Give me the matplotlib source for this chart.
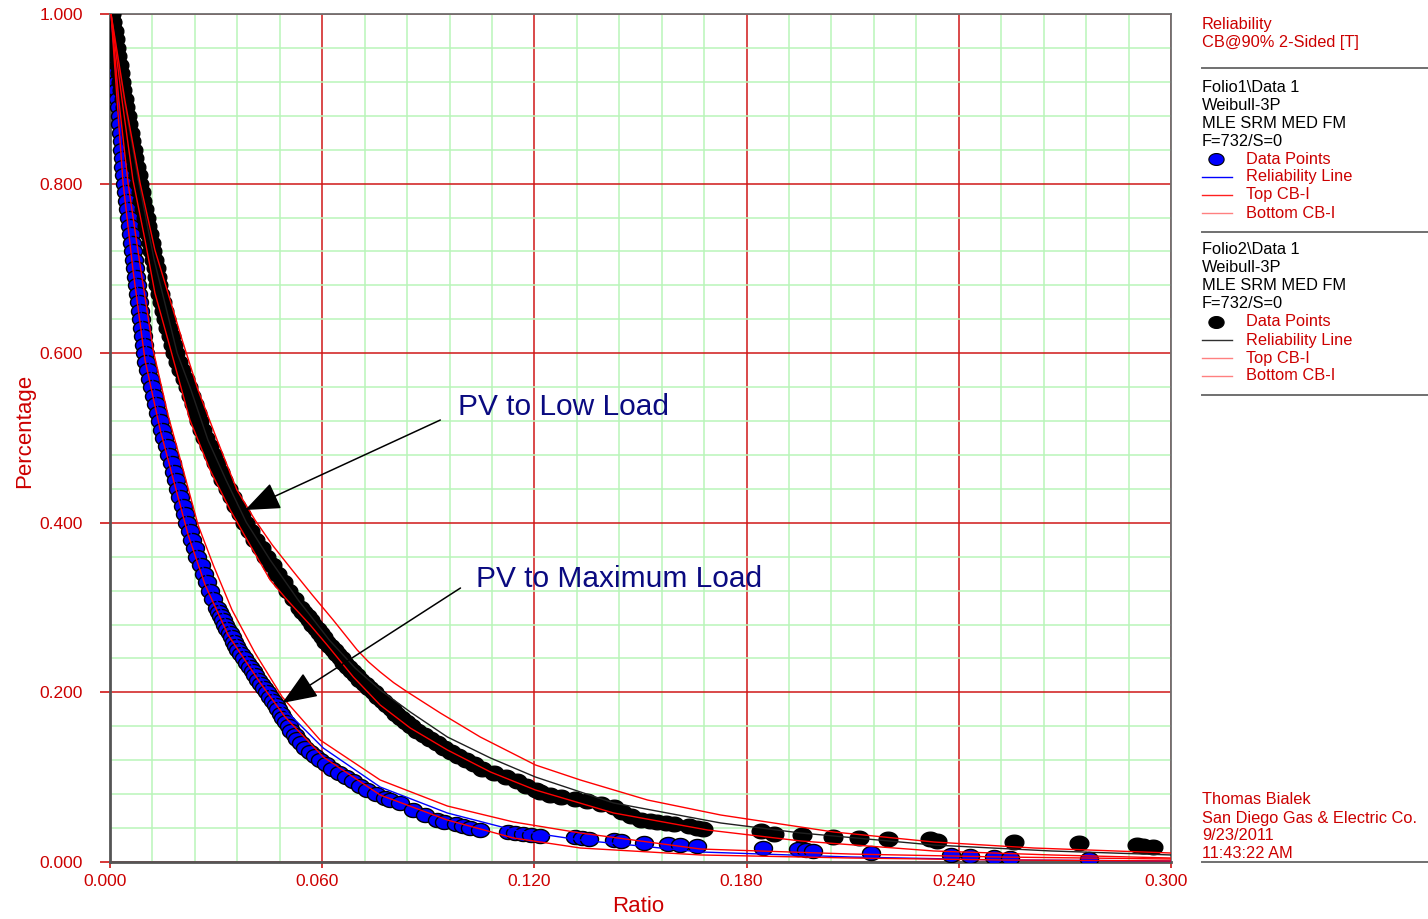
import numpy as np
import matplotlib
matplotlib.use("Agg")
import matplotlib.pyplot as plt
import matplotlib.font_manager as fm
from matplotlib.lines import Line2D
from matplotlib.ticker import MultipleLocator, FormatStrFormatter
import matplotlib.transforms as mtransforms


def has_font(name):
    try:
        fm.findfont(fm.FontProperties(family=name), fallback_to_default=False)
        return True
    except Exception:
        return False

MAIN = "Liberation Sans" if has_font("Liberation Sans") else "DejaVu Sans"
NARROW = "Liberation Sans Narrow" if has_font("Liberation Sans Narrow") else MAIN
plt.rcParams["font.family"] = [MAIN, "DejaVu Sans"]

# ---------------- data ----------------
# Folio1 (blue) data points
blue_y = [1.00, 0.99, 0.98, 0.97, 0.96, 0.95, 0.94, 0.93, 0.92, 0.91, 0.90, 0.89, 0.88, 0.87,
          0.86, 0.85, 0.84, 0.83, 0.82, 0.81, 0.80, 0.79, 0.78, 0.77, 0.76, 0.75, 0.74, 0.73,
          0.72, 0.71, 0.70, 0.69, 0.68, 0.67, 0.66, 0.65, 0.64, 0.63, 0.62, 0.61, 0.60, 0.59,
          0.58, 0.57, 0.56, 0.55, 0.54, 0.53, 0.52, 0.51, 0.50, 0.49, 0.48, 0.47, 0.46, 0.45,
          0.44, 0.43, 0.42, 0.41, 0.40, 0.39, 0.38, 0.37, 0.36, 0.35, 0.34, 0.33, 0.32, 0.31,
          0.30, 0.295, 0.290, 0.285, 0.280, 0.275, 0.270, 0.265, 0.260, 0.255, 0.250, 0.245,
          0.240, 0.235, 0.230, 0.225, 0.220, 0.215, 0.210, 0.205, 0.200, 0.195, 0.190, 0.185,
          0.180, 0.175, 0.170, 0.165, 0.160, 0.155, 0.150, 0.145, 0.140, 0.135, 0.130, 0.125,
          0.120, 0.115, 0.110, 0.105, 0.100, 0.095, 0.090, 0.085, 0.080, 0.075,
          0.073, 0.070, 0.061, 0.055, 0.050, 0.047, 0.045, 0.042, 0.040, 0.038, 0.035, 0.034,
          0.033, 0.032, 0.031, 0.029, 0.028, 0.027, 0.026, 0.025, 0.022, 0.021, 0.020, 0.019,
          0.017, 0.015, 0.014, 0.013, 0.011, 0.008, 0.007, 0.006, 0.005, 0.004]
blue_x = [0.0003, 0.0005, 0.0007, 0.0009, 0.0011, 0.0013, 0.0015, 0.0017, 0.0019, 0.0021, 0.0023,
          0.0025, 0.0027, 0.0029, 0.0031, 0.0033, 0.0035, 0.0037, 0.0038, 0.0040, 0.0043, 0.0046,
          0.0048, 0.0051, 0.0054, 0.0057, 0.0060, 0.0063, 0.0066, 0.0068, 0.0071, 0.0074, 0.0077,
          0.0080, 0.0083, 0.0086, 0.0089, 0.0091, 0.0094, 0.0097, 0.0100, 0.0103, 0.0108, 0.0114,
          0.0119, 0.0125, 0.0130, 0.0136, 0.0142, 0.0148, 0.0154, 0.0161, 0.0167, 0.0174, 0.0181,
          0.0187, 0.0193, 0.0199, 0.0205, 0.0211, 0.0217, 0.0225, 0.0232, 0.0239, 0.0247, 0.0256,
          0.0265, 0.0273, 0.0282, 0.0291, 0.0302, 0.0308, 0.0314, 0.0320, 0.0326, 0.0332, 0.0338,
          0.0344, 0.0350, 0.0356, 0.0362, 0.0370, 0.0379, 0.0387, 0.0395, 0.0403, 0.0411, 0.0419,
          0.0428, 0.0436, 0.0444, 0.0452, 0.0460, 0.0468, 0.0475, 0.0483, 0.0490, 0.0498, 0.0506,
          0.0513, 0.0522, 0.0530, 0.0539, 0.0552, 0.0566, 0.0580, 0.0594, 0.0610, 0.0629, 0.0648,
          0.0667, 0.0686, 0.0706, 0.0727, 0.0753, 0.0778,
          0.0793, 0.0821, 0.0858, 0.0892, 0.0926, 0.0943, 0.0977, 0.0999, 0.1019, 0.1047, 0.1124,
          0.1146, 0.1169, 0.1189, 0.1217, 0.1316, 0.1336, 0.1353, 0.1424, 0.1444, 0.1509, 0.1579,
          0.1613, 0.1661, 0.1845, 0.1945, 0.1967, 0.1987, 0.2151, 0.2378, 0.2431, 0.2499, 0.2545,
          0.2768]

# Folio2 (black) data points
black_y = [1.00, 0.99, 0.98, 0.97, 0.96, 0.95, 0.94, 0.93, 0.92, 0.91, 0.90, 0.89, 0.88, 0.87,
           0.86, 0.85, 0.84, 0.83, 0.82, 0.81, 0.80, 0.79, 0.78, 0.77, 0.76, 0.75, 0.74, 0.73,
           0.72, 0.71, 0.70, 0.69, 0.68, 0.67, 0.66, 0.65, 0.64, 0.63, 0.62, 0.61, 0.60, 0.59,
           0.58, 0.57, 0.56, 0.55, 0.54, 0.53, 0.52, 0.51, 0.50, 0.49, 0.48, 0.47, 0.46, 0.45,
           0.44, 0.43, 0.42, 0.41, 0.40, 0.39, 0.38, 0.37, 0.36, 0.35, 0.34, 0.33, 0.32, 0.31,
           0.30, 0.295, 0.290, 0.285, 0.280, 0.275, 0.270, 0.265, 0.260, 0.255, 0.250, 0.245,
           0.240, 0.235, 0.230, 0.225, 0.220, 0.215, 0.210, 0.205, 0.200, 0.195, 0.190, 0.185,
           0.180, 0.175, 0.170, 0.165, 0.160, 0.155, 0.150, 0.145, 0.140, 0.135, 0.130, 0.125,
           0.120, 0.115, 0.110, 0.105, 0.100, 0.095, 0.090, 0.085, 0.0825,
           0.079, 0.077, 0.074, 0.072, 0.068, 0.065, 0.059, 0.054, 0.050, 0.048, 0.047, 0.046,
           0.045, 0.042, 0.040, 0.039, 0.037, 0.033, 0.032, 0.029, 0.028, 0.027, 0.027, 0.025,
           0.024, 0.022, 0.020, 0.019, 0.018]
black_x = [0.0003, 0.0007, 0.0010, 0.0014, 0.0017, 0.0021, 0.0025, 0.0028, 0.0032, 0.0035, 0.0039,
           0.0043, 0.0048, 0.0052, 0.0056, 0.0060, 0.0065, 0.0069, 0.0073, 0.0078, 0.0082, 0.0087,
           0.0091, 0.0096, 0.0101, 0.0105, 0.0110, 0.0115, 0.0120, 0.0125, 0.0129, 0.0133, 0.0137,
           0.0141, 0.0146, 0.0153, 0.0159, 0.0165, 0.0172, 0.0178, 0.0184, 0.0193, 0.0202, 0.0211,
           0.0221, 0.0229, 0.0237, 0.0245, 0.0253, 0.0261, 0.0270, 0.0280, 0.0290, 0.0300, 0.0310,
           0.0320, 0.0333, 0.0344, 0.0357, 0.0369, 0.0381, 0.0396, 0.0411, 0.0426, 0.0441, 0.0457,
           0.0472, 0.0488, 0.0504, 0.0519, 0.0537, 0.0547, 0.0556, 0.0565, 0.0575, 0.0584, 0.0593,
           0.0603, 0.0612, 0.0622, 0.0632, 0.0642, 0.0652, 0.0662, 0.0672, 0.0683, 0.0695, 0.0708,
           0.0721, 0.0733, 0.0746, 0.0758, 0.0771, 0.0783, 0.0796, 0.0810, 0.0824, 0.0838, 0.0852,
           0.0869, 0.0887, 0.0906, 0.0924, 0.0943, 0.0963, 0.0985, 0.1007, 0.1029, 0.1053, 0.1086,
           0.1119, 0.1150, 0.1177, 0.1204, 0.1217,
           0.1245, 0.1274, 0.1316, 0.1350, 0.1387, 0.1424, 0.1449, 0.1472, 0.1500, 0.1528, 0.1548,
           0.1571, 0.1594, 0.1636, 0.1661, 0.1678, 0.1840, 0.1877, 0.1956, 0.2044, 0.2117, 0.2199,
           0.2318, 0.2338, 0.2556, 0.2740, 0.2904, 0.2921, 0.2949]

# Fitted lines
blue_rel_x = [0.0003, 0.0023, 0.0042, 0.0068, 0.0102, 0.0142, 0.0187, 0.0226, 0.0275, 0.0334, 0.0410,
              0.0481, 0.0603, 0.0764, 0.0954, 0.1141, 0.1330, 0.1670, 0.2095, 0.2519, 0.300]
blue_rel_y = [1.000, 0.8986, 0.8007, 0.7040, 0.6097, 0.5212, 0.4505, 0.3915, 0.3325, 0.2795, 0.2264,
              0.1851, 0.1344, 0.0884, 0.0578, 0.0377, 0.0259, 0.0118, 0.0059, 0.0024, 0.0012]
blue_top_x = [0.0003, 0.0025, 0.0051, 0.0085, 0.0122, 0.0164, 0.0207, 0.0249, 0.0292, 0.0345, 0.0410,
              0.0487, 0.0594, 0.0764, 0.0954, 0.1141, 0.1330, 0.1670, 0.2095, 0.2519, 0.300]
blue_top_y = [1.000, 0.8986, 0.8007, 0.7040, 0.6038, 0.5271, 0.4623, 0.3974, 0.3502, 0.2972, 0.2465,
              0.1946, 0.1439, 0.0967, 0.0660, 0.0472, 0.0342, 0.0153, 0.0094, 0.0059, 0.0035]
blue_bot_x = [0.0003, 0.0020, 0.0037, 0.0065, 0.0099, 0.0142, 0.0187, 0.0221, 0.0269, 0.0334, 0.0425,
              0.0495, 0.0603, 0.0764, 0.0954, 0.1141, 0.1330, 0.1670, 0.2095, 0.2519, 0.300]
blue_bot_y = [1.000, 0.8986, 0.8007, 0.6981, 0.5920, 0.5094, 0.4387, 0.3856, 0.3267, 0.2677, 0.2111,
              0.1710, 0.1238, 0.0790, 0.0495, 0.0283, 0.0165, 0.0083, 0.0047, 0.0024, 0.0012]

black_rel_x = [0.0003, 0.0040, 0.0082, 0.0125, 0.0153, 0.0190, 0.0229, 0.0277, 0.0328, 0.0385, 0.0453,
               0.0532, 0.0620, 0.0693, 0.0764, 0.0849, 0.0954, 0.1076, 0.1203, 0.1424, 0.1727, 0.1953,
               0.2329, 0.2661, 0.300]
black_rel_y = [1.000, 0.8986, 0.8007, 0.7099, 0.6627, 0.6002, 0.5566, 0.4976, 0.4505, 0.4009, 0.3561,
               0.3090, 0.2618, 0.2288, 0.2028, 0.1769, 0.1474, 0.1226, 0.1002, 0.0696, 0.0460, 0.0342,
               0.0200, 0.0130, 0.0083]
black_top_x = [0.0003, 0.0042, 0.0085, 0.0127, 0.0164, 0.0204, 0.0249, 0.0303, 0.0359, 0.0410, 0.0459,
               0.0515, 0.0572, 0.0631, 0.0699, 0.0731, 0.0764, 0.0802, 0.0841, 0.0934, 0.1047, 0.1203,
               0.1330, 0.1520, 0.1727, 0.2046, 0.2329, 0.2612, 0.300]
black_top_y = [1.000, 0.8986, 0.8007, 0.7217, 0.6710, 0.6156, 0.5566, 0.4976, 0.4387, 0.4033, 0.3738,
               0.3443, 0.3149, 0.2854, 0.2500, 0.2360, 0.2241, 0.2115, 0.2005, 0.1757, 0.1474, 0.1144,
               0.0967, 0.0731, 0.0554, 0.0354, 0.0236, 0.0165, 0.0106]
black_bot_x = [0.0003, 0.0034, 0.0065, 0.0099, 0.0127, 0.0164, 0.0226, 0.0283, 0.0340, 0.0388, 0.0453,
               0.0501, 0.0566, 0.0614, 0.0688, 0.0764, 0.0849, 0.0954, 0.1076, 0.1203, 0.1424, 0.1690,
               0.1953, 0.2329, 0.2661, 0.300]
black_bot_y = [1.000, 0.8986, 0.8042, 0.7335, 0.6710, 0.6156, 0.5212, 0.4623, 0.4151, 0.3797, 0.3325,
               0.3090, 0.2795, 0.2559, 0.2182, 0.1851, 0.1580, 0.1321, 0.1061, 0.0849, 0.0578, 0.0377,
               0.0248, 0.0130, 0.0083, 0.0047]

x_ticks = [0.000, 0.060, 0.120, 0.180, 0.240, 0.300]
y_ticks = [0.000, 0.200, 0.400, 0.600, 0.800, 1.000]

legend_head = ["Reliability", "CB@90% 2-Sided [T]"]
folio1_info = ["Folio1\\Data 1", "Weibull-3P", "MLE SRM MED FM", "F=732/S=0"]
folio2_info = ["Folio2\\Data 1", "Weibull-3P", "MLE SRM MED FM", "F=732/S=0"]
legend_items = ["Data Points", "Reliability Line", "Top CB-I", "Bottom CB-I"]
footer = ["Thomas Bialek", "San Diego Gas & Electric Co.", "9/23/2011", "11:43:22 AM"]

# ---------------- figure ----------------
W, H = 1428, 919
fig = plt.figure(figsize=(W / 100, H / 100), dpi=100)
fig.patch.set_facecolor("white")
L, R, T, B = 110, 1171, 14, 862
ax = fig.add_axes([L / W, 1 - B / H, (R - L) / W, (B - T) / H])
ax.set_xlim(0, 0.3)
ax.set_ylim(0, 1.0)

RED = "#CC0000"
ax.xaxis.set_major_locator(MultipleLocator(0.06))
ax.xaxis.set_minor_locator(MultipleLocator(0.012))
ax.yaxis.set_major_locator(MultipleLocator(0.2))
ax.yaxis.set_minor_locator(MultipleLocator(0.04))
ax.set_xticks(x_ticks)
ax.set_yticks(y_ticks)
ax.xaxis.set_major_formatter(FormatStrFormatter("%.3f"))
ax.yaxis.set_major_formatter(FormatStrFormatter("%.3f"))
ax.set_axisbelow(True)
ax.grid(which="minor", color="#B9F5B9", lw=1.1)
ax.grid(which="major", color="#D01818", lw=1.1)
ax.tick_params(which="major", direction="out", length=6, width=1.1, color=RED,
               labelcolor=RED, labelsize=12.5)
ax.tick_params(axis="y", which="major", length=7, pad=12.5)
ax.tick_params(axis="x", which="major", length=4, pad=5)
ax.tick_params(which="minor", length=0)
for lab in ax.get_xticklabels():
    lab.set_transform(lab.get_transform() +
                      mtransforms.ScaledTranslation(-5 / 100, 0, fig.dpi_scale_trans))

for s in ["left", "bottom"]:
    ax.spines[s].set_color("#555555")
    ax.spines[s].set_linewidth(2.0)
for s in ["top", "right"]:
    ax.spines[s].set_color("#707070")
    ax.spines[s].set_linewidth(1.3)

ax.set_xlabel("Ratio", color=RED, fontsize=16, family=[NARROW, "DejaVu Sans"])
ax.set_ylabel("Percentage", color=RED, fontsize=16, family=[NARROW, "DejaVu Sans"])
ax.xaxis.label.set_va("center")
ax.yaxis.label.set_va("center")
ax.xaxis.set_label_coords((638 - L) / (R - L), (B - 906) / (B - T))
ax.yaxis.set_label_coords((25 - L) / (R - L), (B - 431) / (B - T))

# elliptical marker
t = np.linspace(0, 2 * np.pi, 41)
ell = list(zip(np.cos(t), 0.78 * np.sin(t)))

ax.plot(blue_x, blue_y, ls="none", marker=ell, ms=13, mfc="#0000FF", mec="#000000", mew=1.0, zorder=3)
ax.plot(black_x, black_y, ls="none", marker=ell, ms=13.5, mfc="#000000", mec="#000000", mew=1.0, zorder=4)

ax.plot(blue_rel_x, blue_rel_y, color="#0000FF", lw=1.0, zorder=5)
ax.plot(blue_top_x, blue_top_y, color="#FF0000", lw=1.0, zorder=5)
ax.plot(blue_bot_x, blue_bot_y, color="#FF0000", lw=1.0, zorder=5)
ax.plot(black_rel_x, black_rel_y, color="#202020", lw=1.0, zorder=5)
ax.plot(black_top_x, black_top_y, color="#FF0000", lw=1.0, zorder=5)
ax.plot(black_bot_x, black_bot_y, color="#FF0000", lw=1.0, zorder=5)

# annotations
NAVY = "#0A0A80"
ax.text(0.0985, 0.527, "PV to Low Load", color=NAVY, fontsize=21.5, va="baseline", ha="left", zorder=6)
ax.text(0.1035, 0.3245, "PV to Maximum Load", color=NAVY, fontsize=21.5, va="baseline", ha="left", zorder=6)
arrow = dict(arrowstyle="-|>,head_length=1.0,head_width=0.4", mutation_scale=22, lw=1.1,
             color="black", shrinkA=0, shrinkB=0)
ax.annotate("", xy=(0.0382, 0.4151), xytext=(0.0934, 0.5212), arrowprops=arrow, zorder=6)
ax.annotate("", xy=(0.0487, 0.1875), xytext=(0.0991, 0.3231), arrowprops=arrow, zorder=6)

# ---------------- right-side legend panel ----------------
def fx(px):
    return px / W

def fy(py):
    return 1 - py / H

LX = 1202
FS = 11.8
fig.text(fx(LX), fy(25), legend_head[0], color=RED, fontsize=FS, va="center")
fig.text(fx(LX), fy(43), legend_head[1], color=RED, fontsize=FS, va="center")
for py in [68, 232, 395, 862]:
    fig.add_artist(Line2D([fx(LX), fx(1428)], [fy(py), fy(py)], color="#707070", lw=1.4))

def block(info, y0, mfc, line_colors):
    for i, s in enumerate(info):
        fig.text(fx(LX), fy(y0 + 18 * i), s, color="black", fontsize=FS, va="center")
    ym = y0 + 18 * 4
    fig.add_artist(Line2D([fx(1216)], [fy(ym)], marker=ell, ms=11, mfc=mfc, mec="black", mew=0.8, ls="none"))
    fig.text(fx(1246), fy(ym), legend_items[0], color=RED, fontsize=FS, va="center")
    for j in range(3):
        yy = ym + 18 * (j + 1)
        fig.add_artist(Line2D([fx(LX), fx(1232)], [fy(yy), fy(yy)], color=line_colors[j], lw=1.0))
        fig.text(fx(1246), fy(yy), legend_items[j + 1], color=RED, fontsize=FS, va="center")

block(folio1_info, 87, "#0000FF", ["#0000FF", "#FF2020", "#FF8080"])
block(folio2_info, 250, "#000000", ["#303030", "#FF8080", "#FF8080"])

for i, s in enumerate(footer):
    fig.text(fx(LX), fy(800 + 18 * i), s, color=RED, fontsize=FS, va="center")

fig.savefig("out.png", dpi=100, facecolor="white")
